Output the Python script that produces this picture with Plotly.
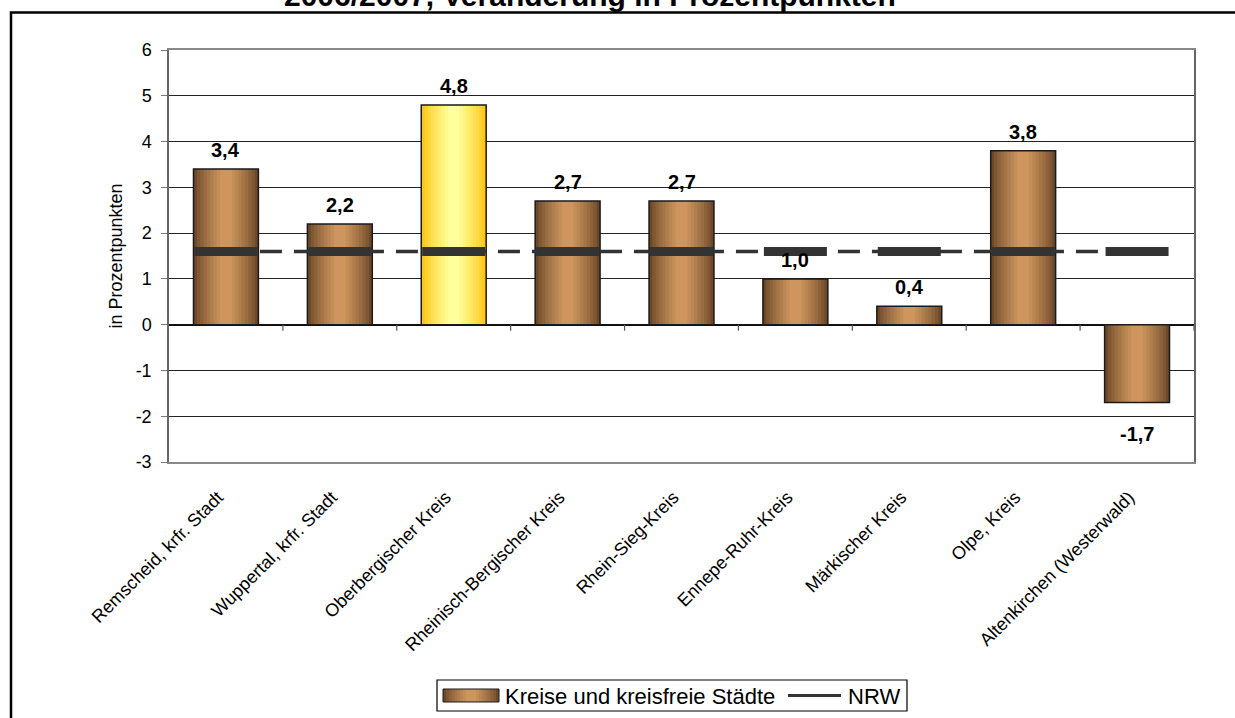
import plotly.graph_objects as go

# --------------------------------------------
# Data
# --------------------------------------------
kreise = [
    "Remscheid, krfr. Stadt",
    "Wuppertal, krfr. Stadt",
    "Oberbergischer Kreis",
    "Rheinisch-Bergischer Kreis",
    "Rhein-Sieg-Kreis",
    "Ennepe-Ruhr-Kreis",
    "Märkischer Kreis",
    "Olpe, Kreis",
    "Altenkirchen (Westerwald)",
]
veraenderung = [3.4, 2.2, 4.8, 2.7, 2.7, 1.0, 0.4, 3.8, -1.7]
nrw = [1.6, 1.6, 1.6, 1.6, 1.6, 1.6, 1.6, 1.6, 1.6]
highlight = "Oberbergischer Kreis"
y_ticks = [-3, -2, -1, 0, 1, 2, 3, 4, 5, 6]

title_text = "2006/2007, Veränderung in Prozentpunkten"
y_title = "in Prozentpunkten"
legend_bars = "Kreise und kreisfreie Städte"
legend_line = "NRW"

# --------------------------------------------
# Styling helpers
# --------------------------------------------
FONT = "Liberation Sans, Arial, sans-serif"
L, R, T, B = 169, 1194, 50, 462  # plot area in px
W_PX, H_PX = 1235, 718

BROWN_EDGE = (108, 72, 40)
BROWN_MID = (206, 150, 94)
YELLOW_EDGE = (255, 198, 20)
YELLOW_MID = (255, 255, 155)
BAR_W = 0.57
N_LAYERS = 9


def px_x(p):
    return (p - L) / (R - L)


def px_y(p):
    return (B - p) / (B - T)


def mix(a, b, t):
    return "rgb({},{},{})".format(*[round(a[i] + (b[i] - a[i]) * t) for i in range(3)])


fig = go.Figure()

# gradient bars: narrower layers on top, lighter towards the middle
for k in range(N_LAYERS):
    t = (k / (N_LAYERS - 1)) ** 0.8
    colors = [
        mix(YELLOW_EDGE, YELLOW_MID, t) if name == highlight else mix(BROWN_EDGE, BROWN_MID, t)
        for name in kreise
    ]
    fig.add_trace(
        go.Bar(
            x=kreise,
            y=veraenderung,
            width=BAR_W * (1 - k / N_LAYERS * 0.92),
            marker=dict(color=colors, line=dict(width=0)),
            name=legend_bars,
            showlegend=False,
            hoverinfo="skip",
        )
    )
# outline on top
fig.add_trace(
    go.Bar(
        x=kreise,
        y=veraenderung,
        width=BAR_W,
        marker=dict(color="rgba(0,0,0,0)", line=dict(color="#1a1a1a", width=1.5)),
        name=legend_bars,
        showlegend=False,
    )
)

# NRW reference line
fig.add_trace(
    go.Scatter(
        x=kreise,
        y=nrw,
        mode="lines+markers",
        name=legend_line,
        line=dict(color="#333333", width=3.5, dash="22px,12px"),
        marker=dict(symbol="line-ew", size=45, line=dict(color="#333333", width=9)),
        showlegend=False,
    )
)

# value labels
for name, v in zip(kreise, veraenderung):
    fig.add_annotation(
        x=name,
        y=v,
        text=f"{v:.1f}".replace(".", ","),
        showarrow=False,
        yanchor="middle",
        yshift=19 if v >= 0 else -32,
        font=dict(family=FONT, size=20, color="black", weight="bold"),
    )

shapes = []
# tick marks on the zero line between categories
for i in range(len(kreise)):
    shapes.append(
        dict(
            type="line", xref="x", yref="y", x0=i + 0.5, x1=i + 0.5,
            ysizemode="pixel", yanchor=0, y0=0, y1=-6,
            line=dict(color="#555555", width=1.2),
        )
    )

# outer chart border
shapes.append(
    dict(
        type="rect", xref="paper", yref="paper",
        x0=px_x(11), x1=px_x(1300), y0=px_y(800), y1=px_y(12.5),
        line=dict(color="black", width=2.5), layer="below",
    )
)

# legend box (custom, to get the wide swatch)
shapes.append(
    dict(
        type="rect", xref="paper", yref="paper",
        x0=px_x(437), x1=px_x(907), y0=px_y(711), y1=px_y(680),
        line=dict(color="black", width=1.2), fillcolor="white",
    )
)
sx0, sx1, sy0, sy1 = 443, 499, 689, 702
for k in range(N_LAYERS):
    t = (k / (N_LAYERS - 1)) ** 0.8
    half = (sx1 - sx0) / 2 * (1 - k / N_LAYERS * 0.92)
    cx = (sx0 + sx1) / 2
    shapes.append(
        dict(
            type="rect", xref="paper", yref="paper",
            x0=px_x(cx - half), x1=px_x(cx + half), y0=px_y(sy1), y1=px_y(sy0),
            fillcolor=mix(BROWN_EDGE, BROWN_MID, t), line=dict(width=0),
        )
    )
shapes.append(
    dict(
        type="rect", xref="paper", yref="paper",
        x0=px_x(sx0), x1=px_x(sx1), y0=px_y(sy1), y1=px_y(sy0),
        line=dict(color="#1a1a1a", width=1),
    )
)
shapes.append(
    dict(
        type="line", xref="paper", yref="paper",
        x0=px_x(788), x1=px_x(841), y0=px_y(695.5), y1=px_y(695.5),
        line=dict(color="#333333", width=3),
    )
)

fig.add_annotation(
    xref="paper", yref="paper", x=px_x(503), y=px_y(696), xanchor="left", yanchor="middle",
    text=legend_bars, showarrow=False, font=dict(family=FONT, size=22, color="black"),
)
fig.add_annotation(
    xref="paper", yref="paper", x=px_x(846), y=px_y(696), xanchor="left", yanchor="middle",
    text=legend_line, showarrow=False, font=dict(family=FONT, size=22, color="black"),
)

# title, cut off at the top edge like the original
fig.add_annotation(
    xref="paper", yref="paper", x=px_x(590), y=px_y(14), xanchor="center", yanchor="bottom",
    text=f"<b>{title_text}</b>", showarrow=False, font=dict(family=FONT, size=30, color="black"),
)

fig.update_layout(
    width=W_PX,
    height=H_PX,
    margin=dict(l=L, r=W_PX - R, t=T, b=H_PX - B),
    barmode="overlay",
    showlegend=False,
    plot_bgcolor="white",
    paper_bgcolor="white",
    font=dict(family=FONT, color="black"),
    shapes=shapes,
)

fig.update_xaxes(
    type="category",
    range=[-0.5, len(kreise) - 0.5],
    tickangle=-45,
    tickfont=dict(size=18),
    ticks="",
    ticklabelstandoff=16,
    ticklabelshift=-8,
    showline=True,
    linecolor="#888888",
    linewidth=1.5,
    mirror=True,
    showgrid=False,
)
fig.update_yaxes(
    range=[-3, 6],
    tickvals=y_ticks,
    ticktext=[str(v) for v in y_ticks],
    tickfont=dict(size=18),
    ticks="outside",
    ticklen=6,
    tickcolor="#777777",
    ticklabelstandoff=6,
    showline=True,
    linecolor="#666666",
    linewidth=1.5,
    mirror=True,
    showgrid=True,
    gridcolor="#222222",
    gridwidth=1,
    zeroline=True,
    zerolinecolor="#111111",
    zerolinewidth=1.5,
    title=dict(text=y_title, font=dict(size=18), standoff=8),
)

# page body has a default margin; drop it so the figure sits at the window origin
fig.write_html(
    "out.html",
    config={"displayModeBar": False},
    post_script="document.body.style.margin='0px';",
)
